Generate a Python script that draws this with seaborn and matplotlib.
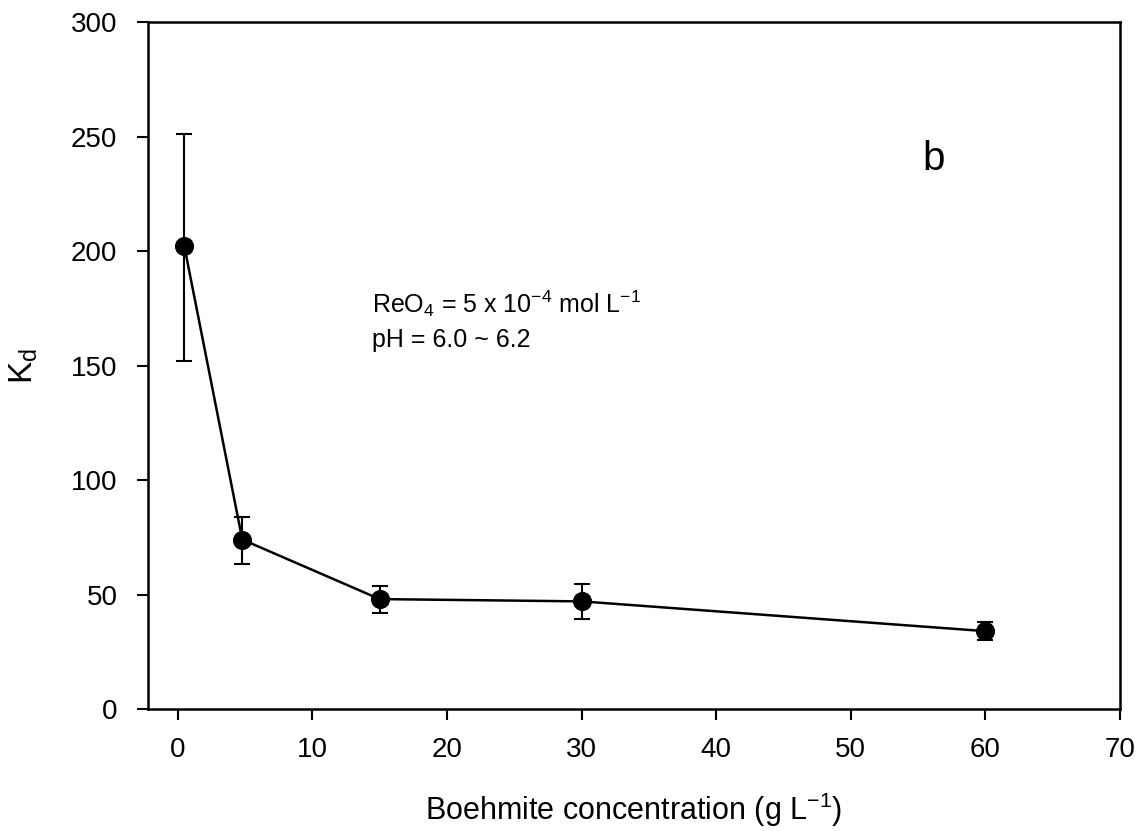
import matplotlib
matplotlib.use("Agg")
import matplotlib.pyplot as plt
import seaborn as sns
import pandas as pd
import numpy as np

conc = [0.5, 4.8, 15, 30, 60]
kd = [202, 74, 48, 47, 34]
err_low = [50, 10.5, 6, 7.5, 4]
err_high = [49, 10, 5.5, 7.5, 4]

sns.set_theme(style="white")
plt.rcParams['font.family'] = ['Liberation Sans', 'DejaVu Sans']
plt.rcParams['mathtext.fontset'] = 'custom'
plt.rcParams['mathtext.rm'] = 'Liberation Sans'
plt.rcParams['mathtext.it'] = 'Liberation Sans:italic'
plt.rcParams['mathtext.default'] = 'regular'
plt.rcParams['text.color'] = 'black'
plt.rcParams['axes.labelcolor'] = 'black'

fig = plt.figure(figsize=(11.43, 8.31), dpi=100)
ax = fig.add_axes([0.1295, 0.1468, 0.8505, 0.8267])

df = pd.DataFrame({"conc": conc, "kd": kd})
ax.errorbar(conc, kd, yerr=[err_low, err_high], fmt='none', ecolor='black',
            elinewidth=1.5, capsize=6, capthick=1.5, zorder=2)
sns.lineplot(data=df, x="conc", y="kd", ax=ax, color='black', linewidth=1.8,
             marker='o', markersize=13, markerfacecolor='black',
             markeredgecolor='black', zorder=3)

ax.set_xlim(-2.2, 70)
ax.set_ylim(0, 300)
ax.set_xticks(np.arange(0, 71, 10))
ax.set_yticks(np.arange(0, 301, 50))
for s in ax.spines.values():
    s.set_color('black')
    s.set_linewidth(1.8)
ax.tick_params(direction='out', length=8, width=1.5, colors='black',
               labelsize=20, left=True, bottom=True)
ax.tick_params(axis='x', pad=12)
ax.tick_params(axis='y', pad=14)
ax.set_xlabel("Boehmite concentration (g L$^{-1}$)", fontsize=22, labelpad=20)
ax.set_ylabel("K$_d$", fontsize=24, labelpad=22)

ax.text(55.3, 240, "b", fontsize=29, ha='left', va='center')
ax.text(14.4, 177, "ReO$_4$ = 5 x 10$^{-4}$ mol L$^{-1}$", fontsize=18,
        ha='left', va='center')
ax.text(14.4, 161, "pH = 6.0 ~ 6.2", fontsize=18, ha='left', va='center')

fig.savefig("out.png", dpi=100)
